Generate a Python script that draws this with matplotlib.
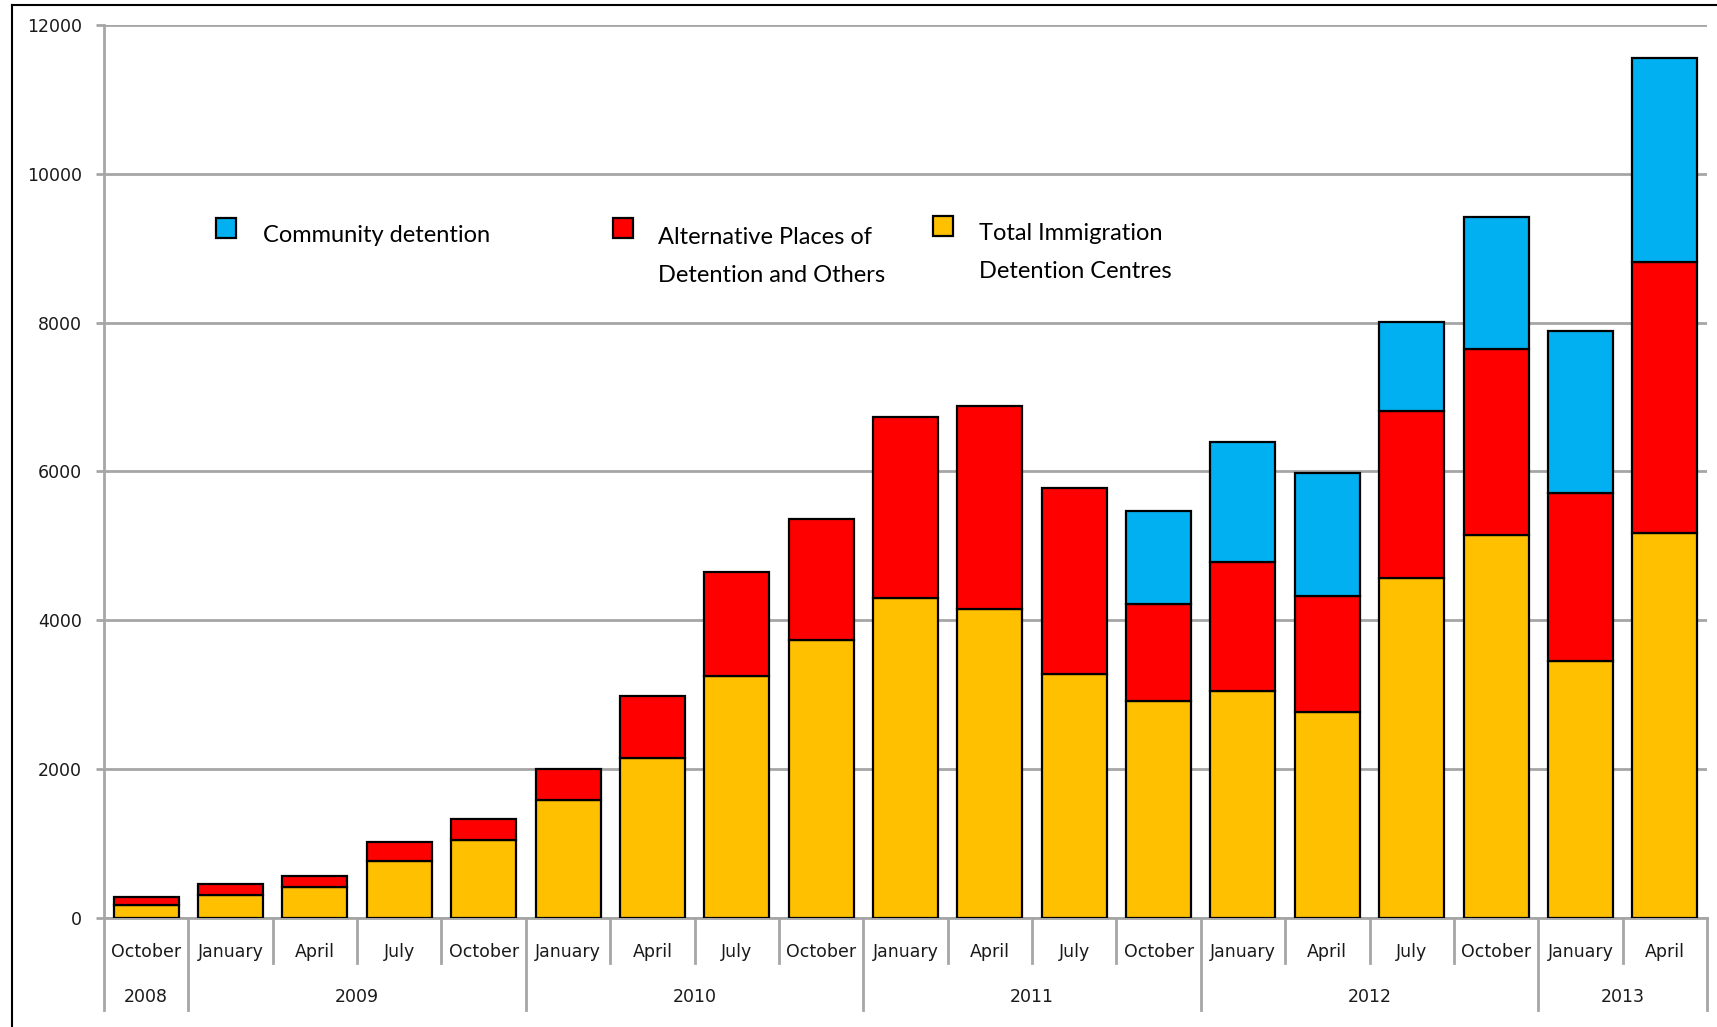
import matplotlib
matplotlib.use("Agg")
import matplotlib.pyplot as plt
from matplotlib.lines import Line2D
from matplotlib.patches import Rectangle

# data
months = ['October', 'January', 'April', 'July', 'October',
          'January', 'April', 'July', 'October',
          'January', 'April', 'July', 'October',
          'January', 'April', 'July', 'October',
          'January', 'April']
years = ['2008', '2009', '2010', '2011', '2012', '2013']
year_sizes = [1, 4, 4, 4, 4, 2]

idc = [176, 309, 412, 765, 1044, 1588, 2147, 3250, 3735, 4294,
       4147, 3279, 2912, 3044, 2765, 4574, 5147, 3456, 5176]
apod = [104, 147, 147, 250, 280, 412, 838, 1397, 1633, 2441,
        2735, 2500, 1309, 1735, 1559, 2235, 2500, 2250, 3633]
community = [0, 0, 0, 0, 0, 0, 0, 0, 0, 0,
             0, 0, 1250, 1618, 1661, 1206, 1779, 2176, 2741]

c_idc = '#FFC000'
c_apod = '#FF0000'
c_comm = '#00B0F0'
grid_c = '#A6A6A6'

W, H = 1717, 1027
fig = plt.figure(figsize=(W / 100, H / 100), dpi=100)
ax = fig.add_axes([104 / W, 1 - 918 / H, (1707 - 104) / W, (918 - 25) / H])

x = list(range(len(months)))
bottom2 = [a + b for a, b in zip(idc, apod)]
ax.bar(x, idc, width=0.77, color=c_idc, edgecolor='black', linewidth=1.6, zorder=3)
ax.bar(x, apod, width=0.77, bottom=idc, color=c_apod, edgecolor='black', linewidth=1.6, zorder=3)
comm_x = [i for i in x if community[i] > 0]
ax.bar(comm_x, [community[i] for i in comm_x], width=0.77,
       bottom=[bottom2[i] for i in comm_x], color=c_comm, edgecolor='black',
       linewidth=1.6, zorder=3)

ax.set_xlim(-0.5, len(months) - 0.5)
ax.set_ylim(0, 12000)
ax.set_yticks(range(0, 12001, 2000))
ax.yaxis.grid(True, color=grid_c, linewidth=2, zorder=0)
ax.set_axisbelow(True)
for s in ['top', 'right']:
    ax.spines[s].set_visible(False)
for s in ['left', 'bottom']:
    ax.spines[s].set_color(grid_c)
    ax.spines[s].set_linewidth(2)
ax.tick_params(axis='y', length=6, width=2, color=grid_c, labelsize=12.5,
               labelcolor='#1a1a1a', pad=10)
ax.set_xticks([])

# two level category axis
tr = ax.get_xaxis_transform()
ymon = -45 / 893
yyear = -92 / 893
for i, m in enumerate(months):
    ax.text(i, -34 / 893, m, transform=tr, ha='center', va='center',
            fontsize=12.5, color='#1a1a1a')
edges = [0]
for n in year_sizes:
    edges.append(edges[-1] + n)
for b in range(len(months) + 1):
    yb = yyear if b in edges else ymon
    ax.plot([b - 0.5, b - 0.5], [0, yb], transform=tr, color=grid_c,
            linewidth=2, clip_on=False)
for k, yr in enumerate(years):
    mid = (edges[k] + edges[k + 1]) / 2 - 0.5
    ax.text(mid, -79 / 893, yr, transform=tr, ha='center', va='center',
            fontsize=12.5, color='#1a1a1a')

# legend drawn by hand
leg_font = 'Lato'
items = [
    (216, 218, c_comm, 263, 236, ['Community detention']),
    (613, 218, c_apod, 658, 237, ['Alternative Places of', 'Detention and Others']),
    (933, 216, c_idc, 979, 234, ['Total Immigration', 'Detention Centres']),
]
for sx, sy, col, tx, ty, lines in items:
    fig.add_artist(Rectangle((sx / W, 1 - (sy + 20) / H), 20 / W, 20 / H,
                             facecolor=col, edgecolor='black', linewidth=1.6,
                             transform=fig.transFigure))
    for j, t in enumerate(lines):
        fig.text(tx / W, 1 - (ty + 38 * j) / H, t, ha='left', va='center',
                 fontsize=17, family=leg_font, color='black')

# frame around picture (left and top edges visible)
fig.add_artist(Line2D([12 / W, 12 / W], [0, 1 - 5 / H], color='black', linewidth=1.5))
fig.add_artist(Line2D([12 / W, 1], [1 - 5 / H, 1 - 5 / H], color='black', linewidth=1.5))

fig.savefig('out.png', dpi=100, facecolor='white')
